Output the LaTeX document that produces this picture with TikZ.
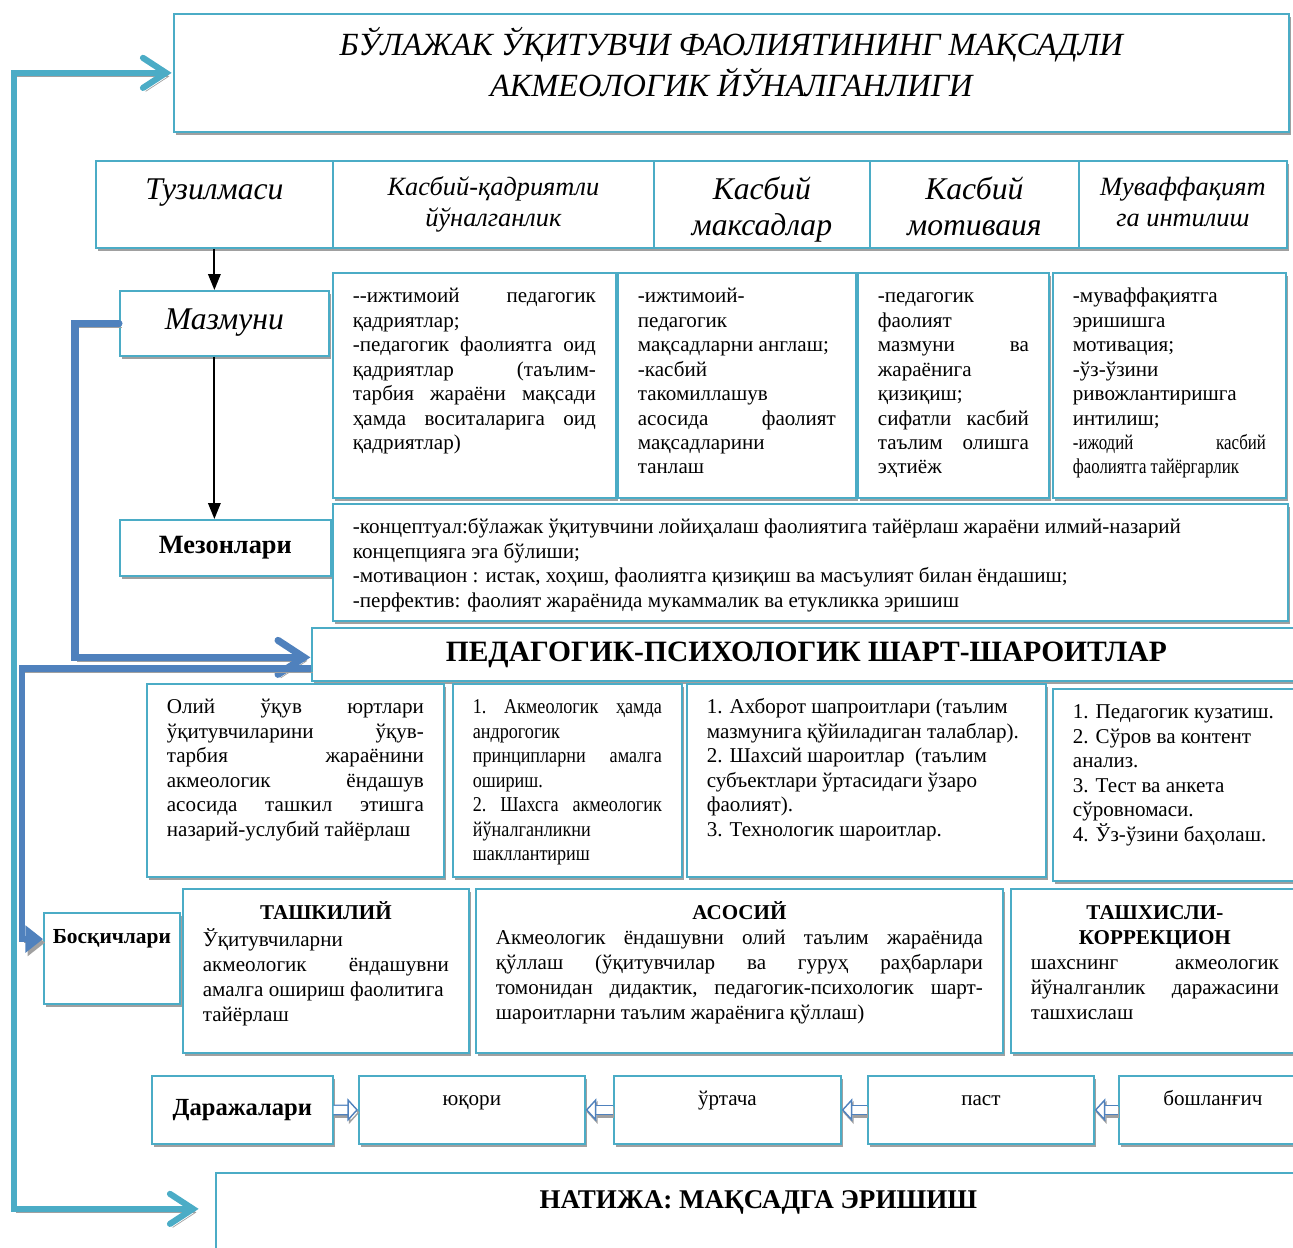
\documentclass[tikz,border=0pt]{standalone}
\usepackage{fontspec}
\setmainfont{Liberation Serif}
\newfontfamily\narrowfont{Liberation Serif}[FakeStretch=0.86]
\newfontfamily\tightfont{Liberation Serif}[FakeStretch=0.8]
\usetikzlibrary{arrows.meta,shadows}
\definecolor{box_blue}{RGB}{75,172,198}
\definecolor{edge_blue}{RGB}{79,129,189}
\definecolor{shadow_gray}{RGB}{160,160,160}
\newlength\pxu
\setlength\pxu{0.02cm}
\newcommand\tb[3]{\parbox[c][#2\pxu][t]{#1\pxu}{\vspace*{3\pxu}\strut#3}}

\begin{document}
\begin{tikzpicture}[x=0.02cm,y=-0.02cm]
    \tikzstyle{box}=[draw=box_blue, line width=1pt, fill=white, anchor=north west, inner xsep=0.4cm, inner ysep=0.2cm, drop shadow={shadow xshift=1.2pt, shadow yshift=-1.6pt, fill=shadow_gray, opacity=1}, font=\fontsize{12}{13.9}\selectfont]
    \tikzstyle{head}=[style=box, inner xsep=0.1cm, font=\itshape\fontsize{18}{20.5}\selectfont]
    \tikzstyle{headsm}=[style=box, inner xsep=0.1cm, font=\itshape\fontsize{15}{17.6}\selectfont]
    \tikzstyle{stage}=[style=box, font=\fontsize{12}{14.2}\selectfont]
    \tikzstyle{tag}=[style=box, inner sep=0pt, font=\bfseries\fontsize{14}{16.8}\selectfont]
    \tikzstyle{darr}=[-{Triangle[length=9pt,width=7pt]}, line width=1.1pt, black]
    \tikzstyle{lbarrow}=[box_blue, line width=3.5pt, line cap=round, preaction={draw=shadow_gray, transform canvas={shift={(1.5pt,-2pt)}}}]
    \tikzstyle{dbarrow}=[edge_blue, line width=4pt, line cap=round, preaction={draw=shadow_gray, transform canvas={shift={(1.5pt,-2pt)}}}]
    \tikzstyle{dbarrow2}=[edge_blue, line width=3.5pt, -{Triangle[length=10pt,width=15pt]}, preaction={draw=shadow_gray, transform canvas={shift={(1.2pt,-2pt)}}}]
    \tikzstyle{hollow}=[draw=edge_blue, line width=0.8pt, double=white, double distance=4.5pt, -{Triangle[open, fill=white, length=6pt, width=13pt]}, preaction={draw=shadow_gray, double=shadow_gray, transform canvas={shift={(0.8pt,-1.5pt)}}}]

    \path[use as bounding box, clip] (0,0) rectangle (1293,1247);

    \node[box, font=\itshape\fontsize{18.4}{21.6}\selectfont] (title) at (173,13) {\tb{1075}{98}{\centering БЎЛАЖАК ЎҚИТУВЧИ ФАОЛИЯТИНИНГ МАҚСАДЛИ\\ АКМЕОЛОГИК ЙЎНАЛГАНЛИГИ}};

    % header row
    \node[head] (tuz) at (95,160) {\tb{227}{67}{\centering Тузилмаси}};
    \node[headsm] (kq) at (332,160) {\tb{311}{67}{\centering Касбий-қадриятли\\ йўналганлик}};
    \node[head] (km) at (653,160) {\tb{206}{67}{\centering Касбий\\ максадлар}};
    \node[head] (mot) at (869,160) {\tb{199}{67}{\centering Касбий\\ мотиваия}};
    \node[headsm] (muv) at (1078,160) {\tb{198}{67}{\centering Муваффақият\\ га интилиш}};

    \node[head] (mazm) at (119,290) {\tb{199}{45}{\centering Мазмуни}};
    \node[tag, minimum width=4.22cm, minimum height=1.12cm, font=\bfseries\fontsize{15}{18}\selectfont] (mez) at (119,519) {Мезонлари};

    \node[box] (val) at (332,272) {\tb{243}{205}{-{}-ижтимоий\hfill педагогик\\ қадриятлар;\\ -педагогик\hfill фаолиятга\hfill оид\\ қадриятлар\hfill (таълим-\\ тарбия\hfill жараёни\hfill мақсади\\ ҳамда\hfill воситаларига\hfill оид\\ қадриятлар)}};
    \node[box] (goal) at (617,272) {\tb{198}{205}{-ижтимоий-\\ педагогик\\ мақсадларни англаш;\\ -касбий\\ такомиллашув\\ асосида\hfill фаолият\\ мақсадларини\\ танлаш}};
    \node[box] (motv) at (857,272) {\tb{151}{205}{-педагогик\\ фаолият\\ мазмуни\hfill ва\\ жараёнига\\ қизиқиш;\\ сифатли\hfill касбий\\ таълим\hfill олишга\\ эҳтиёж}};
    \node[box] (succ) at (1052,272) {\tb{193}{205}{-муваффақиятга\\ эришишга\\ мотивация;\\ -ўз-ўзини\\ ривожлантиришга\\ интилиш;\\ {\tightfont -ижодий\hfill касбий}\\ {\tightfont фаолиятга тайёргарлик}}};
    \node[box] (crit) at (332,503) {\tb{915}{97}{-концептуал:бўлажак ўқитувчини лойиҳалаш фаолиятига тайёрлаш жараёни илмий-назарий\\ концепцияга эга бўлиши;\\ -мотивацион : истак, хоҳиш, фаолиятга қизиқиш ва масъулият билан ёндашиш;\\ -перфектив: фаолият жараёнида мукаммалик ва етукликка эришиш}};

    \node[box, inner sep=0pt, minimum width=19.78cm, minimum height=1.06cm, text height=12pt, font=\bfseries\fontsize{16.8}{20}\selectfont] (ped) at (311,627) {ПЕДАГОГИК-ПСИХОЛОГИК ШАРТ-ШАРОИТЛАР};

    % conditions
    \node[box] (cnd1) at (146,683) {\tb{257}{173}{Олий\hfill ўқув\hfill юртлари\\ ўқитувчиларини\hfill ўқув-\\ тарбия\hfill жараёнини\\ акмеологик\hfill ёндашув\\ асосида\hfill ташкил\hfill этишга\\ назарий-услубий тайёрлаш}};
    \node[box] (cnd2) at (452,683) {\tb{189}{173}{\narrowfont 1.\hfill Акмеологик\hfill ҳамда\\ андрогогик\\ принципларни\hfill амалга\\ ошириш.\\ 2.\hfill Шахсга\hfill акмеологик\\ йўналганликни\\ шакллантириш}};
    \node[box] (cnd3) at (686,683) {\tb{319}{173}{1. Ахборот шапроитлари (таълим\\ мазмунига қўйиладиган талаблар).\\ 2. Шахсий шароитлар\ \ (таълим\\ субъектлари ўртасидаги ўзаро\\ фаолият).\\ 3. Технологик шароитлар.}};
    \node[box] (cnd4) at (1052,688) {\tb{208}{172}{1. Педагогик кузатиш.\\ 2. Сўров ва контент\\ анализ.\\ 3. Тест ва анкета\\ сўровномаси.\\ 4. Ўз-ўзини баҳолаш.}};

    % stages
    \node[box, inner xsep=0.1cm, font=\bfseries\fontsize{12.2}{14.6}\selectfont] (bosq) at (43,912) {\tb{126}{71}{\centering Босқичлари}};
    \node[stage] (st1) at (182,888) {\tb{246}{144}{{\centering\bfseries ТАШКИЛИЙ\par}Ўқитувчиларни\\ акмеологик\hfill ёндашувни\\ амалга ошириш фаолитига\\ тайёрлаш}};
    \node[stage] (st2) at (475,888) {\tb{487}{144}{{\centering\bfseries АСОСИЙ\par}Акмеологик\hfill ёндашувни\hfill олий\hfill таълим\hfill жараёнида\\ қўллаш\hfill (ўқитувчилар\hfill ва\hfill гуруҳ\hfill раҳбарлари\\ томонидан\hfill дидактик,\hfill педагогик-психологик\hfill шарт-\\ шароитларни таълим жараёнига қўллаш)}};
    \node[stage] (st3) at (1010,888) {\tb{248}{144}{{\centering\bfseries ТАШХИСЛИ-\\ КОРРЕКЦИОН\par}шахснинг\hfill акмеологик\\ йўналганлик\hfill даражасини\\ ташхислаш}};

    % levels
    \node[tag, minimum width=3.62cm, minimum height=1.36cm] (lv0) at (151,1075) {Даражалари};
    \node[box] (lv1) at (358,1075) {\tb{186}{48}{\centering юқори}};
    \node[box] (lv2) at (613,1075) {\tb{187}{48}{\centering ўртача}};
    \node[box] (lv3) at (867,1075) {\tb{186}{48}{\centering паст}};
    \node[box] (lv4) at (1118,1075) {\tb{148}{48}{\centering бошланғич}};

    \node[box, font=\bfseries\fontsize{15.4}{18}\selectfont] (res) at (215,1172) {\tb{1045}{70}{\centering НАТИЖА: МАҚСАДГА ЭРИШИШ}};

    \draw[darr] (tuz.south) -- (tuz.south |- mazm.north);
    \draw[darr] (tuz.south |- mazm.south) -- (tuz.south |- mez.north);

    % big arrows with chevron heads
    \draw[lbarrow] ([shift={(-8,0)}]title.west) -- ++(-151,0) |- ([shift={(-23,-9)}]res.west);
    \draw[lbarrow] ([shift={(-30,-15)}]title.west) -- ([shift={(-7,0)}]title.west) -- ([shift={(-30,15)}]title.west);
    \draw[lbarrow] ([shift={(-45,-24)}]res.west) -- ([shift={(-22,-9)}]res.west) -- ([shift={(-45,6)}]res.west);
    \draw[dbarrow] (mazm.west) -- ++(-44,0) |- ([shift={(-8,3)}]ped.west);
    \draw[dbarrow] ([shift={(-33,-14)}]ped.west) -- ([shift={(-7,3)}]ped.west) -- ([shift={(-33,20)}]ped.west);
    \draw[dbarrow2] ([yshift=-8pt]ped.west) -- ++(-289,0) |- ([yshift=11pt]bosq.west);

    \draw[hollow] (lv0.east) -- (lv1.west);
    \draw[hollow] (lv2.west) -- (lv1.east);
    \draw[hollow] (lv3.west) -- (lv2.east);
    \draw[hollow] (lv4.west) -- (lv3.east);
\end{tikzpicture}
\end{document}
